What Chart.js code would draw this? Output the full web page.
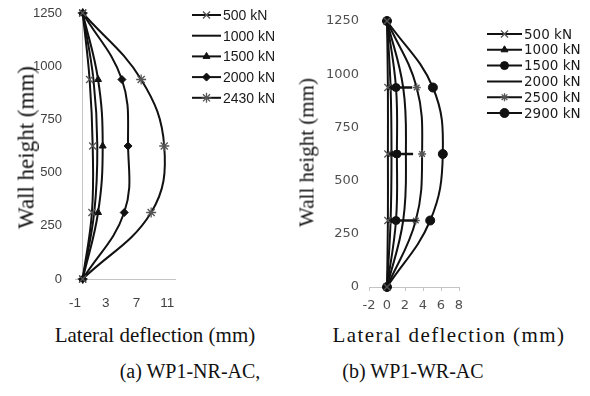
<!DOCTYPE html>
<html>
<head>
<meta charset="utf-8">
<script src="https://cdn.jsdelivr.net/npm/chart.js@4.4.1/dist/chart.umd.min.js"></script>
<style>
  html, body { margin: 0; padding: 0; background: #fff; }
  #page { position: relative; width: 590px; height: 396px; overflow: hidden; }
  canvas { position: absolute; top: 0; }
  #chartA { left: 0; }
  #chartB { left: 290px; }
  .txt { position: absolute; width: 300px; text-align: center; line-height: 1;
         font-family: "Liberation Serif", "Times New Roman", serif; color: #111; white-space: nowrap; }
  .rot { transform: rotate(-90deg); transform-origin: 50% 50%; }
</style>
</head>
<body>
<div id="page">
  <canvas id="chartA" width="290" height="320"></canvas>
  <canvas id="chartB" width="300" height="320"></canvas>

  <div class="txt rot" style="left:-124.5px; top:135.5px; font-size:23px;">Wall height (mm)</div>
  <div class="txt rot" style="left:157px; top:141.5px; font-size:21px;">Wall height (mm)</div>
  <div class="txt" style="left:5px; top:325px; font-size:21px;">Lateral deflection (mm)</div>
  <div class="txt" style="left:299px; top:325px; font-size:21px; letter-spacing:1.4px;">Lateral deflection (mm)</div>
  <div class="txt" style="left:40px; top:361px; font-size:20px;">(a) WP1-NR-AC,</div>
  <div class="txt" style="left:263px; top:361px; font-size:20px;">(b) WP1-WR-AC</div>
</div>

<script>
// wall heights of the measuring points (mm)
const heights = [0, 312.5, 625, 937.5, 1250];

// (a) WP1-NR-AC  lateral deflection (mm)
const loadsA = ["500 kN", "1000 kN", "1500 kN", "2000 kN", "2430 kN"];
const defA500 = [0, 1.2, 1.3, 0.9, 0];
const defA1000 = [0, 1.5, 1.9, 1.4, 0];
const defA1500 = [0, 2.0, 2.6, 2.0, 0];
const defA2000 = [0, 5.4, 5.9, 5.1, 0];
const defA2430 = [0, 8.9, 10.6, 7.6, 0];
const xTicksA = [-1, 3, 7, 11];

// (b) WP1-WR-AC
const loadsB = ["500 kN", "1000 kN", "1500 kN", "2000 kN", "2500 kN", "2900 kN"];
const defB500 = [0, 0.1, 0.1, 0.1, 0];
const defB1000 = [0, 0.4, 0.5, 0.4, 0];
const defB1500 = [0, 1.0, 1.1, 1.0, 0];
const defB2000 = [0, 1.8, 2.1, 1.8, 0];
const defB2500 = [0, 3.2, 3.9, 3.3, 0];
const defB2900 = [0, 4.8, 6.2, 5.1, 0];
// horizontal bars seen on panel (b)
const barHeightsB = [312.5, 625, 937.5];
const barLoB = [1.2, 0.9, 0.7];
const barHiB = [3.3, 2.9, 2.8];
const xTicksB = [-2, 0, 2, 4, 6, 8];

function pts(xs) {
  return heights.map((h, i) => ({ x: xs[i], y: h }));
}

function series(label, xs, style, radius, grey) {
  return {
    label: label,
    data: pts(xs),
    showLine: true,
    tension: 0.4,
    borderColor: "#111",
    borderWidth: 2,
    pointStyle: style || "circle",
    pointRadius: style ? radius : 0,
    pointBackgroundColor: "#111",
    pointBorderColor: grey ? "#555" : "#111",
    pointBorderWidth: grey ? 1.3 : 1,
    clip: false
  };
}

// Excel style legend: line sample with the marker in its middle
const excelLegend = {
  id: "excelLegend",
  afterDraw(chart, args, opts) {
    const ctx = chart.ctx;
    ctx.save();
    chart.data.datasets.forEach((ds, i) => {
      const y = opts.y0 + i * opts.dy;
      ctx.strokeStyle = "#111";
      ctx.lineWidth = 2;
      ctx.beginPath();
      ctx.moveTo(opts.x1, y);
      ctx.lineTo(opts.x2, y);
      ctx.stroke();
      if (ds.pointRadius > 0) {
        ctx.fillStyle = ds.pointBackgroundColor;
        ctx.strokeStyle = ds.pointBorderColor;
        ctx.lineWidth = ds.pointBorderWidth;
        Chart.helpers.drawPoint(ctx, {
          pointStyle: ds.pointStyle, rotation: 0,
          radius: ds.pointRadius, borderWidth: ds.pointBorderWidth
        }, (opts.x1 + opts.x2) / 2, y);
      }
      ctx.fillStyle = "#1a1a1a";
      ctx.font = opts.font;
      ctx.textAlign = "left";
      ctx.textBaseline = "middle";
      ctx.fillText(ds.label, opts.x2 + 2, y + 1);
    });
    ctx.restore();
  }
};

const hBars = {
  id: "hBars",
  afterDatasetsDraw(chart, args, opts) {
    if (!opts.heights) return;
    const ctx = chart.ctx, xs = chart.scales.x, ys = chart.scales.y;
    ctx.save();
    ctx.strokeStyle = "#111";
    ctx.lineWidth = 2.5;
    opts.heights.forEach((h, i) => {
      ctx.beginPath();
      ctx.moveTo(xs.getPixelForValue(opts.lo[i]), ys.getPixelForValue(h));
      ctx.lineTo(xs.getPixelForValue(opts.hi[i]), ys.getPixelForValue(h));
      ctx.stroke();
    });
    ctx.restore();
  }
};

const axisGrey = "#c4c4c4";

new Chart(document.getElementById("chartA"), {
  type: "scatter",
  data: {
    datasets: [
      series(loadsA[0], defA500, "crossRot", 5, true),
      series(loadsA[1], defA1000, null, 0),
      series(loadsA[2], defA1500, "triangle", 4),
      series(loadsA[3], defA2000, "rectRot", 4),
      series(loadsA[4], defA2430, "star", 5, true)
    ]
  },
  options: {
    responsive: false,
    animation: false,
    layout: { padding: { left: 0, top: 13, right: 115, bottom: 0 } },
    plugins: {
      legend: { display: false },
      tooltip: { enabled: false },
      excelLegend: { x1: 192, x2: 221, y0: 15, dy: 20.7, font: "14px 'Liberation Sans', Arial, sans-serif" }
    },
    scales: {
      x: {
        type: "linear", min: -1, max: 12,
        afterFit: s => { s.height = 41; },
        border: { display: true, color: axisGrey },
        grid: {
          drawTicks: false,
          color: c => (c.tick && c.tick.value === 0) ? axisGrey : "transparent"
        },
        ticks: {
          stepSize: 1, autoSkip: false, maxRotation: 0, padding: 16,
          color: "#404040", font: { family: "'Liberation Sans', Arial, sans-serif", size: 13.5 },
          callback: v => xTicksA.includes(v) ? String(v) : ""
        }
      },
      y: {
        type: "linear", min: 0, max: 1250,
        afterFit: s => { s.width = 75; },
        border: { display: false },
        grid: { display: false },
        ticks: {
          stepSize: 250, padding: 5,
          color: "#404040", font: { family: "'Liberation Sans', Arial, sans-serif", size: 13 },
          callback: v => String(v)
        }
      }
    }
  },
  plugins: [excelLegend]
});

new Chart(document.getElementById("chartB"), {
  type: "scatter",
  data: {
    datasets: [
      series(loadsB[0], defB500, "crossRot", 5, true),
      series(loadsB[1], defB1000, "triangle", 4),
      series(loadsB[2], defB1500, "circle", 4),
      series(loadsB[3], defB2000, null, 0),
      series(loadsB[4], defB2500, "star", 4, true),
      series(loadsB[5], defB2900, "circle", 4.5)
    ]
  },
  options: {
    responsive: false,
    animation: false,
    layout: { padding: { left: 0, top: 21, right: 131, bottom: 0 } },
    plugins: {
      legend: { display: false },
      tooltip: { enabled: false },
      excelLegend: { x1: 197, x2: 232, y0: 34, dy: 15.8, font: "13.5px 'DejaVu Sans', Verdana, sans-serif" },
      hBars: { heights: barHeightsB, lo: barLoB, hi: barHiB }
    },
    scales: {
      x: {
        type: "linear", min: -2, max: 8,
        afterFit: s => { s.height = 33; },
        afterBuildTicks: s => { s.ticks = xTicksB.map(v => ({ value: v })); },
        border: { display: true, color: axisGrey },
        grid: {
          drawTicks: true, tickLength: 4, tickColor: axisGrey,
          color: c => (c.tick && c.tick.value === 0) ? axisGrey : "transparent"
        },
        ticks: {
          autoSkip: false, maxRotation: 0, padding: 7,
          color: "#505050", font: { family: "'DejaVu Sans', Verdana, sans-serif", size: 13 }
        }
      },
      y: {
        type: "linear", min: 0, max: 1250,
        afterFit: s => { s.width = 79; },
        border: { display: false },
        grid: { display: false },
        ticks: {
          stepSize: 250, padding: 2,
          color: "#505050", font: { family: "'DejaVu Sans', Verdana, sans-serif", size: 13 },
          callback: v => String(v)
        }
      }
    }
  },
  plugins: [excelLegend, hBars]
});
</script>
</body>
</html>
